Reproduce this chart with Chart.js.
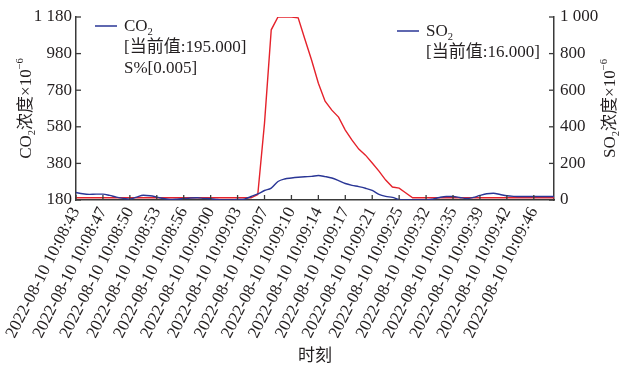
<!DOCTYPE html>
<html>
<head>
<meta charset="utf-8">
<script src="https://cdn.jsdelivr.net/npm/chart.js@4.4.1/dist/chart.umd.min.js"></script>
<style>
  html, body { margin: 0; padding: 0; background: #fff; }
  #wrap { width: 621px; height: 366px; position: relative; }
</style>
</head>
<body>
<div id="wrap"><canvas id="myChart"></canvas></div>
<script>
// tick labels on the time axis, one every 4 samples
const tickLabels = [
	'2022-08-10 10:08:43', '2022-08-10 10:08:47', '2022-08-10 10:08:50', '2022-08-10 10:08:53',
	'2022-08-10 10:08:56', '2022-08-10 10:09:00', '2022-08-10 10:09:03', '2022-08-10 10:09:07',
	'2022-08-10 10:09:10', '2022-08-10 10:09:14', '2022-08-10 10:09:17', '2022-08-10 10:09:21',
	'2022-08-10 10:09:25', '2022-08-10 10:09:32', '2022-08-10 10:09:35', '2022-08-10 10:09:39',
	'2022-08-10 10:09:42', '2022-08-10 10:09:46'
];
const samplesPerTick = 4;

// CO2 (left axis, 10^-6)
const co2 = [
	221, 214, 211, 212, 212, 205, 196, 189, 185, 196,
	206, 203, 196, 188, 183, 185, 188, 191, 192, 189,
	187, 183, 180, 180, 183, 185, 199, 213, 232, 245,
	281, 295, 300, 304, 307, 309, 314, 308, 300, 286,
	270, 260, 253, 244, 232, 211, 200, 194, 183, 180,
	180, 180, 180, 185, 194, 199, 199, 194, 188, 194,
	205, 214, 217, 210, 203, 200, 199, 199, 199, 199,
	199, 199
];

// SO2 (right axis, 10^-6)
const so2 = [
	12, 12, 12, 12, 12, 12, 12, 12, 12, 12,
	12, 12, 12, 12, 12, 12, 12, 12, 12, 12,
	12, 12, 12, 12, 12, 12, 12, 30, 420, 930,
	1000, 1000, 1000, 995, 878, 764, 638, 540, 491, 453,
	382, 327, 278, 245, 202, 158, 109, 71, 65, 38,
	12, 12, 12, 12, 12, 12, 12, 12, 12, 12,
	12, 12, 12, 12, 12, 12, 12, 12, 12, 12,
	12, 12
];

const co2Ticks = { min: 180, max: 1180, step: 200 };
const so2Ticks = { min: 0, max: 1000, step: 200 };

const legendLines = [
	{ x: 95, y: 26, lines: [[['CO', 0], ['2', -1]], [['[当前值:195.000]', 0]], [['S%[0.005]', 0]]] },
	{ x: 397, y: 31, lines: [[['SO', 0], ['2', -1]], [['[当前值:16.000]', 0]]] }
];

const BLUE = '#2a3696';
const RED = '#e5222b';
const AXIS = '#3a3a3a';
const TEXT = '#231f20';
const FONT = '"Liberation Serif", "Noto Sans CJK SC", serif';

function spaced(v) {
	return v >= 1000 ? String(v).replace(/(\d)(\d{3})$/, '$1 $2') : String(v);
}

// draws text made of normal / sub (-1) / sup (1) pieces, returns width
function rich(ctx, parts, x, y, size, measureOnly) {
	let w = 0;
	for (const [t, k] of parts) {
		const s = k === 0 ? size : size * 0.62;
		ctx.font = s + 'px ' + FONT;
		const dy = k === -1 ? size * 0.28 : (k === 1 ? -size * 0.38 : 0);
		if (!measureOnly) ctx.fillText(t, x + w, y + dy);
		w += ctx.measureText(t).width;
	}
	return w;
}

const extras = {
	id: 'extras',
	afterDraw(chart) {
		const ctx = chart.ctx;
		const area = chart.chartArea;
		ctx.save();
		ctx.strokeStyle = AXIS;
		ctx.lineWidth = 1.3;

		// inward tick marks
		const x = chart.scales.x;
		x.ticks.forEach(t => {
			if (tickLabels[t.value / samplesPerTick] === undefined) return;
			const px = x.getPixelForValue(t.value);
			ctx.beginPath(); ctx.moveTo(px, area.bottom); ctx.lineTo(px, area.bottom - 5); ctx.stroke();
		});
		const yl = chart.scales.y;
		yl.ticks.forEach(t => {
			const py = yl.getPixelForValue(t.value);
			ctx.beginPath(); ctx.moveTo(area.left, py); ctx.lineTo(area.left + 5, py); ctx.stroke();
		});
		const yr = chart.scales.y1;
		yr.ticks.forEach(t => {
			const py = yr.getPixelForValue(t.value);
			ctx.beginPath(); ctx.moveTo(area.right, py); ctx.lineTo(area.right - 5, py); ctx.stroke();
		});

		// legends (both drawn with the blue line, as in the source)
		ctx.fillStyle = TEXT;
		ctx.textBaseline = 'middle';
		ctx.textAlign = 'left';
		legendLines.forEach(l => {
			ctx.strokeStyle = BLUE;
			ctx.lineWidth = 1.5;
			ctx.beginPath(); ctx.moveTo(l.x, l.y); ctx.lineTo(l.x + 22, l.y); ctx.stroke();
			l.lines.forEach((parts, i) => {
				rich(ctx, parts, l.x + 29, l.y + 1 + i * 21, 17);
			});
		});

		// axis titles
		const midY = (area.top + area.bottom) / 2;
		const leftTitle = [['CO', 0], ['2', -1], ['浓度×10', 0], ['−6', 1]];
		const rightTitle = [['SO', 0], ['2', -1], ['浓度×10', 0], ['−6', 1]];
		[[leftTitle, 27], [rightTitle, 611]].forEach(([parts, cx]) => {
			const w = rich(ctx, parts, 0, 0, 17, true);
			ctx.save();
			ctx.translate(cx, midY);
			ctx.rotate(-Math.PI / 2);
			rich(ctx, parts, -w / 2, 0, 17);
			ctx.restore();
		});

		ctx.font = '17px ' + FONT;
		ctx.textAlign = 'center';
		ctx.fillText('时刻', (area.left + area.right) / 2, 357);
		ctx.restore();
	}
};

const tickFont = { family: FONT, size: 17 };

const ctx = document.getElementById('myChart').getContext('2d');
let myChart = new Chart(ctx, {
	type: 'line',
	data: {
		labels: co2.map((_, i) => i),
		datasets: [{
			label: 'CO2',
			data: co2,
			yAxisID: 'y',
			borderColor: BLUE,
			borderWidth: 1.4,
			pointRadius: 0,
			tension: 0.4,
			cubicInterpolationMode: 'monotone'
		}, {
			label: 'SO2',
			data: so2,
			yAxisID: 'y1',
			borderColor: RED,
			borderWidth: 1.4,
			pointRadius: 0,
			tension: 0
		}]
	},
	options: {
		responsive: true,
		maintainAspectRatio: false,
		animation: false,
		layout: { padding: { top: 17, left: 0, right: 0, bottom: 0 } },
		plugins: { legend: { display: false }, tooltip: { enabled: false } },
		scales: {
			x: {
				type: 'linear',
				min: 0,
				max: co2.length - 1,
				grid: { display: false, drawTicks: false },
				border: { display: true, color: AXIS, width: 1.5 },
				ticks: {
					stepSize: samplesPerTick,
					includeBounds: false,
					autoSkip: false,
					minRotation: 63,
					maxRotation: 63,
					padding: 4,
					color: TEXT,
					font: tickFont,
					callback: v => tickLabels[v / samplesPerTick]
				},
				afterFit: s => { s.height = 166; }
			},
			y: {
				position: 'left',
				min: co2Ticks.min,
				max: co2Ticks.max,
				grid: { display: false, drawTicks: false },
				border: { display: true, color: AXIS, width: 1.5 },
				ticks: { stepSize: co2Ticks.step, padding: 4, color: TEXT, font: tickFont, callback: spaced },
				afterFit: s => { s.width = 76; }
			},
			y1: {
				position: 'right',
				min: so2Ticks.min,
				max: so2Ticks.max,
				grid: { display: false, drawTicks: false },
				border: { display: true, color: AXIS, width: 1.5 },
				ticks: { stepSize: so2Ticks.step, padding: 6, color: TEXT, font: tickFont, callback: spaced },
				afterFit: s => { s.width = 67; }
			}
		}
	},
	plugins: [extras]
});
</script>
</body>
</html>
